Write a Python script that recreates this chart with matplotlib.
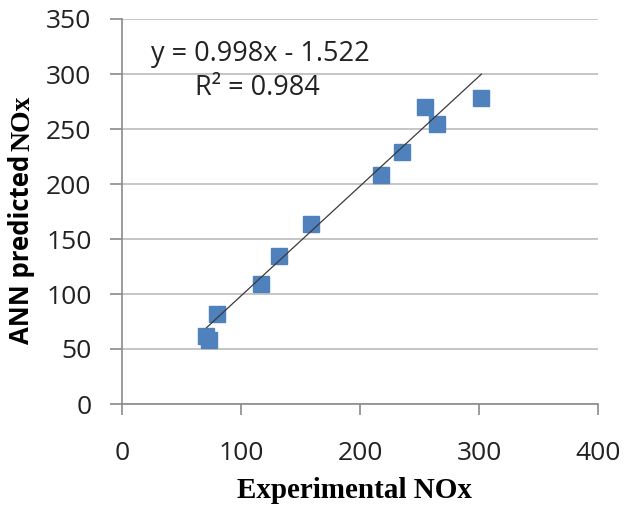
import matplotlib
matplotlib.use("Agg")
import matplotlib.pyplot as plt
import numpy as np

# Experimental vs ANN-predicted NOx
experimental = [71, 73, 80, 117, 132, 159, 218, 235, 255, 265, 302]
predicted = [62, 58, 82, 109, 135, 164, 208, 229, 270, 255, 278]

slope, intercept, r2 = 0.998, -1.522, 0.984

x_ticks = [0, 100, 200, 300, 400]
y_ticks = [0, 50, 100, 150, 200, 250, 300, 350]

W, H = 633, 511
fig = plt.figure(figsize=(W / 100, H / 100), dpi=100)
ax = fig.add_axes([122 / W, 1 - 404 / H, 476 / W, 385 / H])

tick_font = {"family": "Open Sans", "size": 19, "color": "#222222"}

ax.plot(experimental, predicted, "s", color="#4F81BD", markersize=12,
        markeredgecolor="#4F81BD", zorder=3)

xs = np.array([min(experimental), max(experimental)])
ax.plot(xs, slope * xs + intercept, color="#3a3a3a", linewidth=0.9, zorder=4)

ax.text(116, 318, f"y = {slope}x - {abs(intercept)}", ha="center", va="center",
        family="Open Sans", size=19.5, color="#222222")
ax.text(114, 287, f"R\u00b2 = {r2}", ha="center", va="center",
        family="Open Sans", size=19.5, color="#222222")

ax.set_xlim(0, 400)
ax.set_ylim(0, 350)
ax.set_xticks(x_ticks)
ax.set_yticks(y_ticks)
for lbl in ax.get_xticklabels() + ax.get_yticklabels():
    lbl.set_fontfamily(tick_font["family"])
    lbl.set_fontsize(tick_font["size"])
    lbl.set_color(tick_font["color"])

ax.grid(axis="y", color="#c0c0c0", linewidth=1.3)
ax.set_axisbelow(True)
for side in ("top", "right"):
    ax.spines[side].set_visible(False)
for side in ("left", "bottom"):
    ax.spines[side].set_color("#8a8a8a")
    ax.spines[side].set_linewidth(1.2)
ax.tick_params(axis="x", direction="out", length=8, width=1.2, color="#8a8a8a", pad=19)
ax.tick_params(axis="y", direction="out", length=9, width=1.2, color="#8a8a8a", pad=13)

fig.text(354 / W, 1 - 490 / H, "Experimental NOx", ha="center", va="center",
         family="Liberation Serif", weight="bold", fontsize=21)

# y label: sans part, then serif "NOx" stacked above it
ylab = fig.text(22 / W, 1 - 344 / H, "ANN predicted", ha="center", va="bottom",
                rotation=90, family="Open Sans", weight="bold", fontsize=18.5)
renderer = fig.canvas.get_renderer()
top = ylab.get_window_extent(renderer).y1
fig.text(23 / W, (top + 4) / H, "NOx", ha="center", va="bottom",
         rotation=90, family="Liberation Serif", weight="bold", fontsize=20)

fig.savefig("out.png", dpi=100)
